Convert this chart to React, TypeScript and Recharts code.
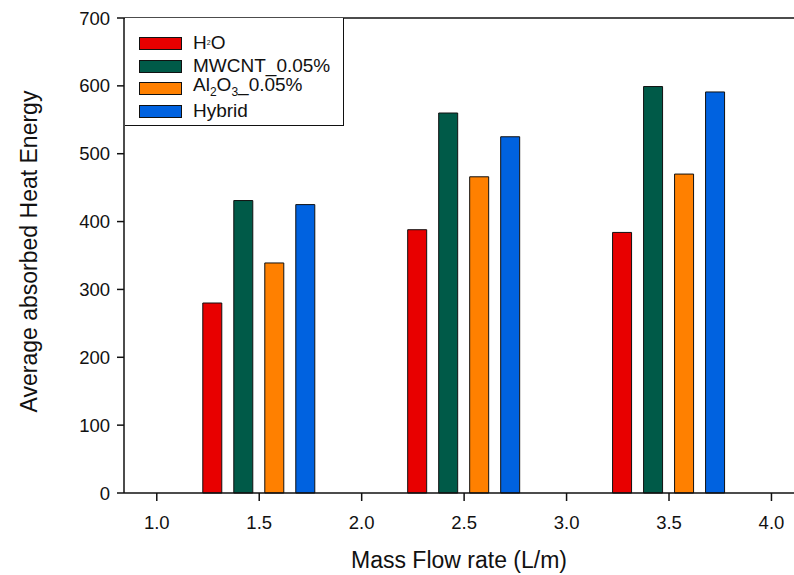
import React from "react";
import { BarChart, Bar, XAxis, YAxis, ReferenceLine } from "recharts";

// Values (average absorbed heat energy per flow rate)
const flowRates = [1.5, 2.5, 3.5];
const h2o = [280, 388, 384];
const mwcnt = [431, 560, 599];
const al2o3 = [339, 466, 470];
const hybrid = [425, 525, 591];

const xTicks = [1.0, 1.5, 2.0, 2.5, 3.0, 3.5, 4.0];
const yTicks = [0, 100, 200, 300, 400, 500, 600, 700];

const INK = "#111";
const RED = "#E80000";
const GREEN = "#005A48";
const ORANGE = "#FF8000";
const BLUE = "#0062E0";
const FONT = "'Liberation Sans', Arial, sans-serif";

const data = flowRates.map((rate, i) => ({
  rate,
  h2o: h2o[i],
  mwcnt: mwcnt[i],
  al2o3: al2o3[i],
  hybrid: hybrid[i],
}));

const sub: React.CSSProperties = { fontSize: 12, verticalAlign: -5 };

const legendRows: { key: string; color: string; label: React.ReactNode }[] = [
  {
    key: "h2o",
    color: RED,
    label: (
      <span>
        H<span style={{ fontSize: 7, verticalAlign: 4 }}>2</span>O
      </span>
    ),
  },
  { key: "mwcnt", color: GREEN, label: "MWCNT_0.05%" },
  {
    key: "al2o3",
    color: ORANGE,
    label: (
      <span>
        Al<span style={sub}>2</span>O<span style={sub}>3</span>_0.05%
      </span>
    ),
  },
  { key: "hybrid", color: BLUE, label: "Hybrid" },
];

// boxed legend sitting in the top-left corner of the plot frame
function BoxLegend() {
  return (
    <div
      style={{
        position: "absolute",
        left: 125,
        top: 18,
        width: 219,
        height: 108,
        borderRight: `1.5px solid ${INK}`,
        borderBottom: `1.5px solid ${INK}`,
        background: "#fff",
        boxSizing: "border-box",
        paddingTop: 14,
        paddingLeft: 14,
        fontFamily: FONT,
        fontSize: 19,
        color: INK,
      }}
    >
      {legendRows.map((r) => (
        <div key={r.key} style={{ display: "flex", alignItems: "center", height: 22.7 }}>
          <div
            style={{
              width: 43,
              height: 13,
              background: r.color,
              border: `1px solid ${INK}`,
              marginRight: 11,
              boxSizing: "border-box",
            }}
          />
          <div style={{ lineHeight: "20px", whiteSpace: "nowrap" }}>{r.label}</div>
        </div>
      ))}
    </div>
  );
}

export default function App() {
  return (
    <div style={{ position: "absolute", left: 0, top: 0, width: 794, height: 575, background: "#fff" }}>
      <BarChart
        width={794}
        height={575}
        data={data}
        margin={{ top: 18, right: 0, bottom: 0, left: 0 }}
        barGap={12}
        style={{ fontFamily: FONT }}
      >
        <XAxis
          type="number"
          dataKey="rate"
          domain={[0.84, 4.11]}
          allowDataOverflow
          ticks={xTicks}
          tickFormatter={(v: number) => v.toFixed(1)}
          height={82}
          tickSize={8}
          tickMargin={15}
          axisLine={{ stroke: INK, strokeWidth: 1.5 }}
          tickLine={{ stroke: INK, strokeWidth: 1.5 }}
          tick={{ fill: INK, fontSize: 18.5 }}
          label={{ value: "Mass Flow rate (L/m)", position: "insideBottom", offset: 7, fill: INK, fontSize: 23 }}
        />
        <YAxis
          type="number"
          domain={[0, 700]}
          ticks={yTicks}
          width={124}
          tickSize={7}
          tickMargin={7}
          axisLine={{ stroke: INK, strokeWidth: 1.5 }}
          tickLine={{ stroke: INK, strokeWidth: 1.5 }}
          tick={{ fill: INK, fontSize: 18.5 }}
          label={{
            value: "Average absorbed Heat Energy",
            angle: -90,
            position: "insideLeft",
            offset: 29,
            dy: -4,
            style: { textAnchor: "middle" },
            fill: INK,
            fontSize: 23,
          }}
        />
        <ReferenceLine y={700} stroke={INK} strokeWidth={1.5} />
        <Bar dataKey="h2o" name="H2O" fill={RED} stroke={INK} strokeWidth={1} barSize={19} isAnimationActive={false} />
        <Bar dataKey="mwcnt" name="MWCNT_0.05%" fill={GREEN} stroke={INK} strokeWidth={1} barSize={19} isAnimationActive={false} />
        <Bar dataKey="al2o3" name="Al2O3_0.05%" fill={ORANGE} stroke={INK} strokeWidth={1} barSize={19} isAnimationActive={false} />
        <Bar dataKey="hybrid" name="Hybrid" fill={BLUE} stroke={INK} strokeWidth={1} barSize={19} isAnimationActive={false} />
      </BarChart>
      <BoxLegend />
    </div>
  );
}
